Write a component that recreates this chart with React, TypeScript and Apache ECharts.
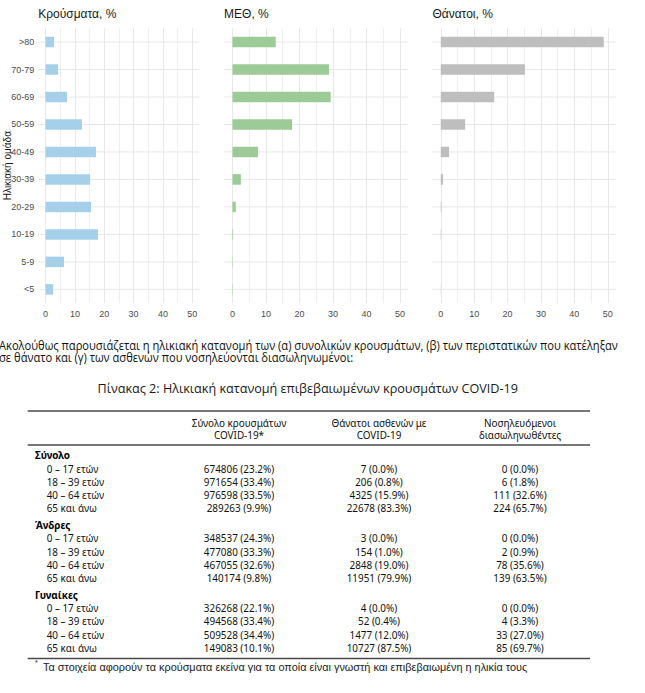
import React, { useEffect, useRef } from 'react';
import * as echarts from 'echarts';

// ---------- Chart data ----------
const ageGroups = ['>80', '70-79', '60-69', '50-59', '40-49', '30-39', '20-29', '10-19', '5-9', '<5'];
const casesPct = [2.9, 4.3, 7.3, 12.4, 17.2, 15.2, 15.5, 17.9, 6.3, 2.6];
const icuPct = [12.9, 28.8, 29.3, 17.8, 7.6, 2.5, 1.0, 0.2, 0.1, 0.1];
const deathsPct = [48.8, 25.2, 16.0, 7.3, 2.5, 0.7, 0.2, 0.1, 0.0, 0.05];
const panelTitles = ['Κρούσματα, %', 'ΜΕΘ, %', 'Θάνατοι, %'];
const xTickValues = [0, 10, 20, 30, 40, 50];
const yAxisTitle = 'Ηλικιακή ομάδα';

// ---------- Text ----------
const paragraphLines = [
  'Ακολούθως παρουσιάζεται η ηλικιακή κατανομή των (α) συνολικών κρουσμάτων, (β) των περιστατικών που κατέληξαν',
  'σε θάνατο και (γ) των ασθενών που νοσηλεύονται διασωληνωμένοι:',
];
const tableCaption = 'Πίνακας 2: Ηλικιακή κατανομή επιβεβαιωμένων κρουσμάτων COVID-19';
const tableHeaders = [
  ['Σύνολο κρουσμάτων', 'COVID-19*'],
  ['Θάνατοι ασθενών με', 'COVID-19'],
  ['Νοσηλευόμενοι', 'διασωληνωθέντες'],
];
const groupNames = ['Σύνολο', 'Άνδρες', 'Γυναίκες'];
const ageBands = ['0 – 17 ετών', '18 – 39 ετών', '40 – 64 ετών', '65 και άνω'];

// [count, percent]
const allCases = [[674806, 23.2], [971654, 33.4], [976598, 33.5], [289263, 9.9]];
const allDeaths = [[7, 0.0], [206, 0.8], [4325, 15.9], [22678, 83.3]];
const allIntubated = [[0, 0.0], [6, 1.8], [111, 32.6], [224, 65.7]];
const menCases = [[348537, 24.3], [477080, 33.3], [467055, 32.6], [140174, 9.8]];
const menDeaths = [[3, 0.0], [154, 1.0], [2848, 19.0], [11951, 79.9]];
const menIntubated = [[0, 0.0], [2, 0.9], [78, 35.6], [139, 63.5]];
const womenCases = [[326268, 22.1], [494568, 33.4], [509528, 34.4], [149083, 10.1]];
const womenDeaths = [[4, 0.0], [52, 0.4], [1477, 12.0], [10727, 87.5]];
const womenIntubated = [[0, 0.0], [4, 3.3], [33, 27.0], [85, 69.7]];
const footnote = 'Τα στοιχεία αφορούν τα κρούσματα εκείνα για τα οποία είναι γνωστή και επιβεβαιωμένη η ηλικία τους';

const fmt = (p: number[]) => `${p[0]} (${p[1].toFixed(1)}%)`;

export default function App() {
  const ref = useRef<HTMLDivElement>(null);

  useEffect(() => {
    const chart = echarts.init(ref.current!, null, { renderer: 'svg' });

    const panelValues = [casesPct, icuPct, deathsPct];
    const panelColors = ['#a6d0ea', '#9dcb98', '#bebebe'];
    const panelLefts = [38.2, 224.1, 432.4];
    const panelWidths = [161.4, 184.3, 183.7];
    const top = 28.3;
    const height = 274.8;
    const xMin = xTickValues[0];
    const xMax = xTickValues[xTickValues.length - 1];
    const pad = (xMax - xMin) * 0.05;
    const axisFont = 'Liberation Sans, Arial, sans-serif';

    const grid: any[] = [];
    const xAxis: any[] = [];
    const yAxis: any[] = [];
    const series: any[] = [];
    const graphic: any[] = [];

    panelValues.forEach((vals, i) => {
      const L = panelLefts[i];
      const W = panelWidths[i];
      const span = xMax - xMin + 2 * pad;
      const innerLeft = L + (W * pad) / span;
      const innerWidth = (W * (xMax - xMin)) / span;
      grid.push({ left: L, top, width: W, height, outerBoundsMode: 'none', containLabel: false });
      grid.push({ left: innerLeft, top, width: innerWidth, height, outerBoundsMode: 'none', containLabel: false });

      xAxis.push({ type: 'value', gridIndex: 2 * i, min: xMin - pad, max: xMax + pad, show: false });
      xAxis.push({
        type: 'value', gridIndex: 2 * i + 1, min: xMin, max: xMax, interval: xTickValues[1] - xTickValues[0],
        axisLine: { show: false }, axisTick: { show: false },
        axisLabel: { color: '#4d4d4d', fontSize: 9, fontFamily: axisFont, margin: 6 },
        splitLine: { show: true, lineStyle: { color: '#e8e8e8', width: 1 } },
        minorTick: { show: false, splitNumber: 2 },
        minorSplitLine: { show: true, lineStyle: { color: '#efefef', width: 1 } },
      });

      yAxis.push({
        type: 'category', gridIndex: 2 * i, data: ageGroups, inverse: true,
        axisLine: { show: false }, axisTick: { show: false }, splitLine: { show: false },
        axisLabel: { show: i === 0, color: '#4d4d4d', fontSize: 9, fontFamily: axisFont, margin: 4 },
      });
      yAxis.push({ type: 'category', gridIndex: 2 * i + 1, data: ageGroups, inverse: true, show: false });

      series.push({
        type: 'custom', xAxisIndex: 2 * i, yAxisIndex: 2 * i, silent: true, z: 1,
        data: ageGroups.map((_, k) => [0, k]),
        encode: { x: 0, y: 1 },
        renderItem: (params: any, api: any) => {
          const y = api.coord([0, api.value(1)])[1];
          const cs = params.coordSys;
          return {
            type: 'line',
            shape: { x1: cs.x, y1: y, x2: cs.x + cs.width, y2: y },
            style: { stroke: '#e8e8e8', lineWidth: 1 },
          };
        },
      });
      series.push({
        type: 'bar', xAxisIndex: 2 * i, yAxisIndex: 2 * i, data: vals, barWidth: 10.5, z: 2,
        itemStyle: { color: panelColors[i] }, silent: true,
      });

      graphic.push({
        type: 'text', x: L, y: 14.1,
        style: { text: panelTitles[i], fill: '#1a1a1a', fontSize: 12, fontFamily: axisFont, align: 'left', verticalAlign: 'middle' },
      });
    });

    graphic.push({
      type: 'text', x: 7, y: top + height / 2, rotation: Math.PI / 2,
      style: { text: yAxisTitle, fill: '#1a1a1a', fontSize: 10, fontFamily: axisFont, align: 'center', verticalAlign: 'middle' },
    });

    // Paragraph
    const paraFont = 'Open Sans, Noto Sans, sans-serif';
    paragraphLines.forEach((t, k) => {
      graphic.push({
        type: 'text', x: -1, y: 345 + k * 12.6, scaleX: 0.93,
        style: { text: t, fill: '#111', fontSize: 12, fontFamily: paraFont, align: 'left', verticalAlign: 'middle' },
      });
    });
    graphic.push({
      type: 'text', x: 307.7, y: 388, scaleX: 0.935,
      style: { text: tableCaption, fill: '#1a1a1a', fontSize: 13.5, fontFamily: paraFont, align: 'center', verticalAlign: 'middle' },
    });

    // Table
    const tFont = 'Noto Sans, Open Sans, sans-serif';
    const tScale = 0.9;
    const tLeft = 27.7;
    const tRight = 590;
    const colCenters = [239, 379, 520];
    const rowH = 13.3;
    const groupGap = 3.2;
    const ruleColor = '#4a4a4a';
    const rule = (y: number, w: number) => ({
      type: 'line', shape: { x1: tLeft, y1: y, x2: tRight, y2: y }, style: { stroke: ruleColor, lineWidth: w },
    });
    graphic.push(rule(411, 1.6));
    graphic.push(rule(445, 1.3));
    graphic.push(rule(658.5, 1.6));

    tableHeaders.forEach((lines, c) => {
      lines.forEach((t, k) => {
        graphic.push({
          type: 'text', x: colCenters[c], y: 422.7 + k * 12.5, scaleX: tScale,
          style: { text: t, fill: '#111', fontSize: 11, fontFamily: tFont, align: 'center', verticalAlign: 'middle' },
        });
      });
    });

    const groupData = [
      [allCases, allDeaths, allIntubated],
      [menCases, menDeaths, menIntubated],
      [womenCases, womenDeaths, womenIntubated],
    ];
    groupNames.forEach((g, gi) => {
      const gy = 455 + gi * (5 * rowH + groupGap);
      graphic.push({
        type: 'text', x: 35, y: gy, scaleX: tScale,
        style: { text: g, fill: '#000', fontSize: 11, fontWeight: 'bold', fontFamily: tFont, align: 'left', verticalAlign: 'middle' },
      });
      ageBands.forEach((a, r) => {
        const ry = gy + (r + 1) * rowH;
        graphic.push({
          type: 'text', x: 46.7, y: ry, scaleX: tScale,
          style: { text: a, fill: '#111', fontSize: 11, fontFamily: tFont, align: 'left', verticalAlign: 'middle' },
        });
        groupData[gi].forEach((col, c) => {
          graphic.push({
            type: 'text', x: colCenters[c], y: ry, scaleX: tScale,
            style: { text: fmt(col[r]), fill: '#111', fontSize: 11, fontFamily: tFont, align: 'center', verticalAlign: 'middle' },
          });
        });
      });
    });

    graphic.push({
      type: 'text', x: 35, y: 662,
      style: { text: '*', fill: '#222', fontSize: 7, fontFamily: axisFont, align: 'left', verticalAlign: 'middle' },
    });
    graphic.push({
      type: 'text', x: 43, y: 666.5,
      style: { text: footnote, fill: '#222', fontSize: 10.9, fontFamily: axisFont, align: 'left', verticalAlign: 'middle' },
    });

    chart.setOption({
      animation: false,
      backgroundColor: '#ffffff',
      grid, xAxis, yAxis, series, graphic,
    });

    return () => chart.dispose();
  }, []);

  return (
    <div
      ref={ref}
      style={{ position: 'absolute', left: 0, top: 0, width: 645, height: 693, background: '#fff' }}
    />
  );
}
